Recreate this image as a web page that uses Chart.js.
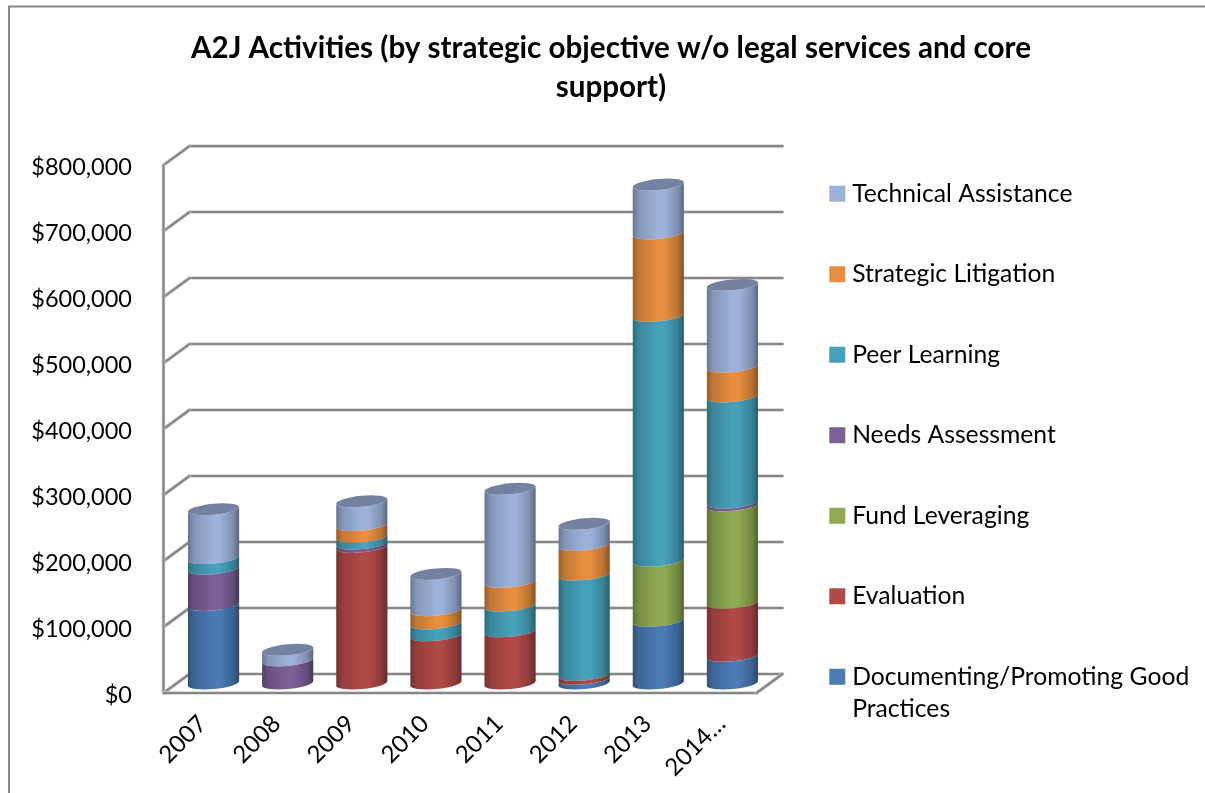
<!DOCTYPE html>
<html>
<head>
<meta charset="utf-8">
<title>A2J Activities</title>
<script src="https://cdn.jsdelivr.net/npm/chart.js@4/dist/chart.umd.min.js"></script>
<style>
    html, body { margin: 0; padding: 0; background: #fff; }
    canvas { display: block; }
</style>
</head>
<body>
<canvas id="a2jChart" width="1205" height="793"></canvas>
<script>
const categories = ['2007', '2008', '2009', '2010', '2011', '2012', '2013', '2014…'];

// stacked values, bottom series first
const documenting = [119000, 0, 0, 0, 0, 7000, 95000, 42000];
const evaluation = [0, 0, 207000, 73000, 79000, 6000, 0, 80000];
const fundLeveraging = [0, 0, 0, 0, 0, 0, 91000, 148000];
const needsAssessment = [55000, 35000, 5000, 0, 0, 0, 0, 4000];
const peerLearning = [16000, 0, 10000, 18000, 39000, 152000, 371000, 161000];
const strategicLitigation = [0, 0, 18000, 20000, 36000, 45000, 125000, 45000];
const technicalAssistance = [74000, 16000, 36000, 55000, 141000, 32000, 74000, 124000];

const GREY = '#868686';
const FONT = 'Lato, "Open Sans", sans-serif';

// half of the fake 3D depth, in pixels
const DEPTH_X = 13;
const DEPTH_Y = 9.5;
const TILT = -0.095;
const CYL_RY = 5.5;

function shade(hex, f) {
    const n = parseInt(hex.slice(1), 16);
    const c = [n >> 16, (n >> 8) & 255, n & 255].map(v => Math.round(v * f));
    return `rgb(${c[0]},${c[1]},${c[2]})`;
}

function wallLine(ctx, x1, y1, x2, y2) {
    ctx.beginPath();
    ctx.moveTo(x1, y1);
    ctx.lineTo(x2, y2);
    ctx.lineWidth = 3.5;
    ctx.strokeStyle = '#d2d2d2';
    ctx.stroke();
    ctx.lineWidth = 2.2;
    ctx.strokeStyle = GREY;
    ctx.stroke();
}

// Outer frame, title/legend placement and the 3D walls
const wallsPlugin = {
    id: 'walls',
    beforeDraw(chart) {
        const ctx = chart.ctx;
        ctx.save();
        ctx.lineWidth = 2;
        ctx.strokeStyle = GREY;
        ctx.beginPath();
        ctx.moveTo(9, 793);
        ctx.lineTo(9, 6.5);
        ctx.lineTo(1205, 6.5);
        ctx.stroke();
        ctx.restore();

        chart.titleBlock.left = 0;
        chart.titleBlock.right = 1222;
        chart.legend.left = 779;
        chart.legend.right = 1205;
        chart.legend.top = 125.5;
        chart.legend.bottom = 793;
    },
    beforeDatasetsDraw(chart) {
        const { ctx, chartArea, scales } = chart;
        const y = scales.y;
        const left = chartArea.left;
        const right = chartArea.right;
        ctx.save();
        ctx.lineCap = 'round';
        y.ticks.forEach(t => {
            const py = y.getPixelForValue(t.value);
            wallLine(ctx, left + DEPTH_X, py - DEPTH_Y, right + DEPTH_X, py - DEPTH_Y);
            wallLine(ctx, left - DEPTH_X, py + DEPTH_Y, left + DEPTH_X, py - DEPTH_Y);
        });
        const zero = y.getPixelForValue(0);
        const top = y.getPixelForValue(y.max);
        wallLine(ctx, left - DEPTH_X, top + DEPTH_Y, left - DEPTH_X, zero + DEPTH_Y);
        wallLine(ctx, left - DEPTH_X, zero + DEPTH_Y, right - DEPTH_X, zero + DEPTH_Y);
        wallLine(ctx, right - DEPTH_X, zero + DEPTH_Y, right + DEPTH_X, zero - DEPTH_Y);
        ctx.restore();
    },
    // Each stacked piece becomes a slice of a cylinder
    beforeDatasetDraw(chart, args) {
        const ctx = chart.ctx;
        const color = chart.data.datasets[args.index].backgroundColor;
        args.meta.data.forEach((bar, i) => {
            if (!chart.data.datasets[args.index].data[i]) return;
            const w = bar.width;
            const rx = w / 2 / Math.cos(TILT);
            const grad = ctx.createLinearGradient(bar.x - w / 2, 0, bar.x + w / 2, 0);
            grad.addColorStop(0, shade(color, 0.66));
            grad.addColorStop(0.12, shade(color, 0.84));
            grad.addColorStop(0.5, color);
            grad.addColorStop(0.62, color);
            grad.addColorStop(0.88, shade(color, 0.8));
            grad.addColorStop(1, shade(color, 0.58));
            ctx.save();
            ctx.beginPath();
            ctx.ellipse(bar.x, bar.base, rx, CYL_RY, TILT, 0, Math.PI, false);
            ctx.ellipse(bar.x, bar.y, rx, CYL_RY, TILT, Math.PI, 0, true);
            ctx.closePath();
            ctx.fillStyle = grad;
            ctx.fill();
            ctx.restore();
        });
        return false;
    },
    afterDatasetsDraw(chart) {
        const ctx = chart.ctx;
        const count = chart.data.datasets.length;
        categories.forEach((c, i) => {
            for (let d = count - 1; d >= 0; d--) {
                if (!chart.data.datasets[d].data[i]) continue;
                const bar = chart.getDatasetMeta(d).data[i];
                const rx = bar.width / 2 / Math.cos(TILT);
                ctx.save();
                ctx.beginPath();
                ctx.ellipse(bar.x, bar.y, rx, CYL_RY, TILT, 0, Math.PI * 2);
                ctx.fillStyle = shade(chart.data.datasets[d].backgroundColor, 0.73);
                ctx.fill();
                ctx.restore();
                break;
            }
        });
    }
};

new Chart(document.getElementById('a2jChart'), {
    type: 'bar',
    plugins: [wallsPlugin],
    data: {
        labels: categories,
        datasets: [
            { label: ['Documenting/Promoting Good', 'Practices'], data: documenting, backgroundColor: '#4A7BB5' },
            { label: 'Evaluation', data: evaluation, backgroundColor: '#B04A47' },
            { label: 'Fund Leveraging', data: fundLeveraging, backgroundColor: '#8FAA52' },
            { label: 'Needs Assessment', data: needsAssessment, backgroundColor: '#7D5F99' },
            { label: 'Peer Learning', data: peerLearning, backgroundColor: '#46A1BA' },
            { label: 'Strategic Litigation', data: strategicLitigation, backgroundColor: '#E78E3F' },
            { label: 'Technical Assistance', data: technicalAssistance, backgroundColor: '#9DB2DB' }
        ]
    },
    options: {
        responsive: false,
        animation: false,
        layout: { padding: { left: 0, top: 0, bottom: 0, right: 179 } },
        datasets: { bar: { barPercentage: 0.69, categoryPercentage: 1, borderWidth: 0 } },
        scales: {
            x: {
                stacked: true,
                grid: { display: false, drawTicks: false },
                border: { display: false },
                ticks: {
                    color: '#000',
                    font: { family: FONT, size: 24 },
                    maxRotation: 45,
                    minRotation: 45,
                    autoSkip: false,
                    padding: 26,
                    labelOffset: -11
                },
                afterFit: scale => { scale.height = 109.5; }
            },
            y: {
                stacked: true,
                min: 0,
                max: 800000,
                grid: { display: false, drawTicks: false },
                border: { display: false },
                ticks: {
                    stepSize: 100000,
                    color: '#000',
                    font: { family: FONT, size: 23.5 },
                    padding: 44.5,
                    labelOffset: 12,
                    callback: value => `$${value.toLocaleString('en-US')}`
                },
                afterFit: scale => { scale.width = 176.5; }
            }
        },
        plugins: {
            title: {
                display: true,
                text: ['A2J Activities (by strategic objective w/o legal services and core', 'support)'],
                color: '#000',
                font: { family: FONT, size: 29.6, weight: 'bold', lineHeight: 1.318 },
                padding: { top: 28.5, bottom: 49 }
            },
            legend: {
                display: true,
                position: 'right',
                align: 'start',
                reverse: true,
                labels: {
                    color: '#000',
                    font: { family: FONT, size: 24.7, lineHeight: 1.3 },
                    usePointStyle: true,
                    pointStyle: 'rect',
                    boxWidth: 5,
                    boxHeight: 16,
                    padding: 55.8
                }
            },
            tooltip: { enabled: false }
        }
    }
});
</script>
</body>
</html>
